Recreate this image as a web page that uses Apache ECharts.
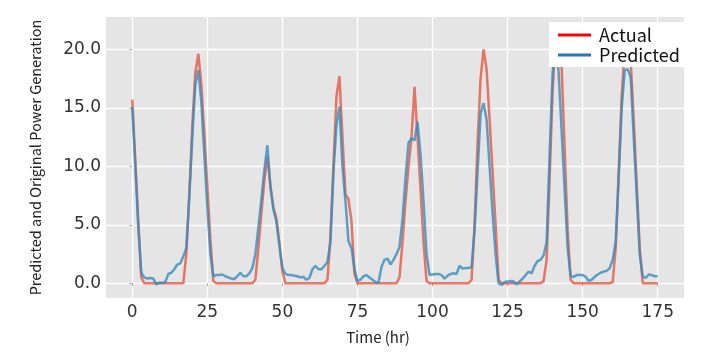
<!DOCTYPE html>
<html>
<head>
<meta charset="utf-8">
<script src="https://cdn.jsdelivr.net/npm/echarts@6/dist/echarts.min.js"></script>
<style>
html,body{margin:0;padding:0;background:#fff;}
#c{width:719px;height:358px;}
</style>
</head>
<body>
<div id="c"></div>
<script>
// Data (hourly values)
const actual = [
15.7,10.6,5.3,0.5,0,0,0,0,0,0,0,0,0,0,0,0,0,
0.0,2.5,7.5,13.5,18.0,19.6,17.0,12.8,8.3,3.8,0.2,
0,0,0,0,0,0,0,0,0,0,0,0,0,
0.3,3.0,6.0,8.8,10.8,8.3,6.5,5.5,3.4,1.0,
0,0,0,0,0,0,0,0,0,0,0,0,0,0,
0.3,4.0,10.0,16.0,17.7,12.5,7.6,7.2,5.3,0.8,
0,0,0,0,0,0,0,0,0,0,0,0,0,0,
0.5,3.5,7.0,10.0,12.5,16.8,12.5,8.0,3.5,0.2,
0,0,0,0,0,0,0,0,0,0,0,0,0,0,
0.3,5.0,12.0,17.5,20.0,18.3,14.0,9.5,5.0,0.3,
0,0,0,0,0,0,0,0,0,0,0,0,0,0,
0.2,2.0,9.0,16.5,21.0,21.6,18.5,11.5,4.5,0.3,
0,0,0,0,0,0,0,0,0,0,0,0,0,
0.1,3.0,9.5,16.0,20.0,20.8,19.0,14.0,8.5,3.0,
0,0,0,0,0,0
];
const predicted = [
15.1,10.0,4.8,0.9,0.5,0.4,0.45,0.4,-0.1,0.05,0.05,0.1,0.8,0.9,1.2,1.6,1.7,2.3,
3.0,7.5,12.5,17.0,18.2,15.5,11.0,6.5,2.5,0.6,
0.7,0.7,0.75,0.6,0.5,0.4,0.35,0.6,0.9,0.6,0.6,0.85,1.3,
2.5,4.8,7.2,9.7,11.8,8.3,6.3,5.3,3.2,1.3,
0.8,0.7,0.7,0.65,0.6,0.5,0.55,0.3,0.45,1.2,1.5,1.2,1.2,1.5,
1.8,3.5,9.5,13.5,15.1,10.0,7.0,3.6,3.0,1.2,
0.2,0.3,0.6,0.7,0.5,0.3,0.1,0.05,1.4,2.0,2.1,1.6,2.0,2.5,
3.1,5.5,9.0,12.0,12.4,12.2,13.8,11.0,7.0,2.5,
0.7,0.75,0.8,0.8,0.7,0.4,0.65,0.8,0.85,0.8,1.5,1.25,1.3,1.3,
1.4,4.5,9.5,14.5,15.4,14.0,10.0,6.0,2.5,0.0,
-0.15,0.1,0.15,0.2,0.15,-0.1,0.15,0.4,0.7,1.0,0.85,1.5,1.9,2.0,
2.4,3.5,11.0,18.0,20.8,18.0,13.0,8.0,3.0,0.6,
0.55,0.7,0.7,0.7,0.55,0.2,0.3,0.55,0.75,0.9,1.0,1.05,1.3,
2.0,3.5,9.0,15.0,18.2,18.3,17.6,12.5,7.5,2.5,
0.6,0.45,0.75,0.7,0.6,0.6
];
const xTicks = [0,25,50,75,100,125,150,175];
const yTicks = [0,5,10,15,20];
const seriesNames = ['Actual','Predicted'];

const FONT = '"Noto Sans CJK KR", "Noto Sans", sans-serif';
const TICKFONT = '"DejaVu Sans", sans-serif';
const toPairs = arr => arr.map((v,i)=>[i,v]);

const chart = echarts.init(document.getElementById('c'), null, {renderer:'canvas'});
chart.setOption({
  animation:false,
  backgroundColor:'#ffffff',
  grid:{left:106,right:35,top:17,bottom:60,show:true,backgroundColor:'#E5E5E5',borderWidth:0},
  legend:{
    orient:'vertical',
    left:549, top:22,
    backgroundColor:'#ffffff',
    borderWidth:0,
    padding:[3,12,2,9],
    itemGap:0,
    itemWidth:33, itemHeight:3,
    icon:'rect',
    textStyle:{fontFamily:FONT,fontSize:18,color:'#111',lineHeight:20,padding:[0,0,0,3]},
    data:[
      {name:seriesNames[0], itemStyle:{color:'#ff0000'}},
      {name:seriesNames[1], itemStyle:{color:'#1f78c8'}}
    ]
  },
  xAxis:{
    type:'value', min:-8.75, max:183.75,
    name:'Time (hr)', nameLocation:'middle', nameGap:32,
    nameTextStyle:{fontFamily:FONT,fontSize:15,color:'#222',padding:[0,34,0,0]},
    axisLine:{show:false},
    axisTick:{show:true,customValues:xTicks,length:3,lineStyle:{color:'#aaaaaa'}},
    axisLabel:{customValues:xTicks,fontFamily:TICKFONT,fontSize:17,color:'#333',margin:6},
    splitLine:{show:true,lineStyle:{color:'#ffffff',width:1.3}}
  },
  yAxis:{
    type:'value', min:-1.26, max:22.76,
    name:'Predicted and Original Power Generation', nameLocation:'middle', nameGap:63,
    nameTextStyle:{fontFamily:FONT,fontSize:14.5,color:'#222'},
    axisLine:{show:false},
    axisTick:{show:true,customValues:yTicks,length:3,lineStyle:{color:'#aaaaaa'}},
    axisLabel:{customValues:yTicks,fontFamily:TICKFONT,fontSize:17,color:'#333',margin:5,
      formatter:v=>Number(v).toFixed(1)},
    splitLine:{show:true,lineStyle:{color:'#ffffff',width:1.3}}
  },
  series:[
    {name:seriesNames[0],type:'line',data:toPairs(actual),showSymbol:false,symbol:'none',
     itemStyle:{color:'#E24A33'},
     lineStyle:{color:'#E24A33',width:2.5,opacity:0.72}},
    {name:seriesNames[1],type:'line',data:toPairs(predicted),showSymbol:false,symbol:'none',
     itemStyle:{color:'#348ABD'},
     lineStyle:{color:'#348ABD',width:2.5,opacity:0.78}}
  ]
});
</script>
</body>
</html>
